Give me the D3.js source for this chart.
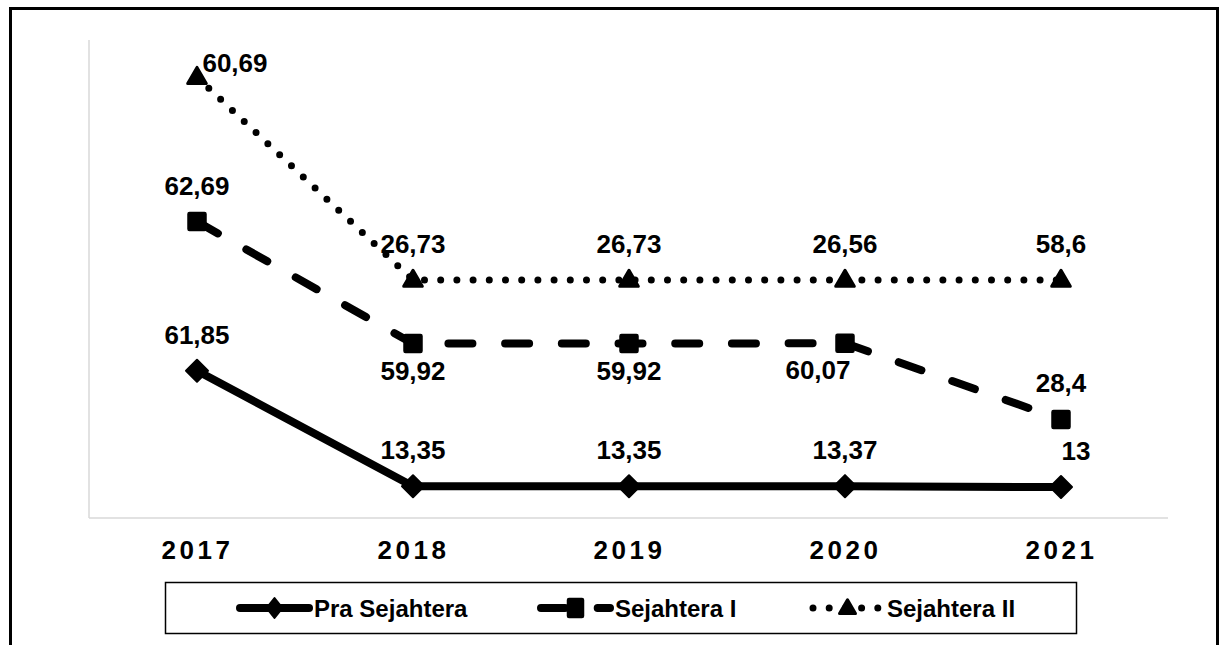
<!DOCTYPE html>
<html><head><meta charset="utf-8">
<script src="https://cdn.jsdelivr.net/npm/d3@7"></script>
<style>
body{margin:0;background:#fff}
svg{display:block}
text{font-family:"Liberation Sans",Arial,sans-serif;font-weight:bold;fill:#000}
</style>
</head><body>
<svg id="c" width="1220" height="645"></svg>
<script>
// ---- data ----
const years = ["2017", "2018", "2019", "2020", "2021"];
const praSejahtera = [61.85, 13.35, 13.35, 13.37, 13];
const sejahteraI = [62.69, 59.92, 59.92, 60.07, 28.4];
const sejahteraII = [60.69, 26.73, 26.73, 26.56, 58.6];
const seriesNames = ["Pra Sejahtera", "Sejahtera I", "Sejahtera II"];
const yDomain = [0, 200];

// ---- build table ----
const rows = years.map((yr, i) => ({
  year: yr,
  "Pra Sejahtera": praSejahtera[i],
  "Sejahtera I": sejahteraI[i],
  "Sejahtera II": sejahteraII[i]
}));
const stacked = d3.stack().keys(seriesNames)(rows);

const svg = d3.select("#c");

// outer frame
svg.append("rect").attr("x", 10.5).attr("y", 8.5).attr("width", 1207).attr("height", 720)
  .attr("fill", "none").attr("stroke", "#000").attr("stroke-width", 3);

const x = d3.scalePoint().domain(years).range([89, 1169]).padding(0.5);
const y = d3.scaleLinear().domain(yDomain).range([518, 42]);

// axes lines (light gray)
svg.append("line").attr("x1", 89).attr("x2", 89).attr("y1", 40).attr("y2", y(0))
  .attr("stroke", "#d9d9d9").attr("stroke-width", 1.5);
svg.append("line").attr("x1", 89).attr("x2", 1168).attr("y1", y(0)).attr("y2", y(0))
  .attr("stroke", "#d9d9d9").attr("stroke-width", 1.5);

// x tick labels
const xAxis = d3.axisBottom(x).tickSize(0).tickPadding(0);
const gx = svg.append("g").attr("transform", `translate(0,${y(0)})`).call(xAxis);
gx.select(".domain").remove();
gx.selectAll("text").attr("y", 41).attr("dy", 0).attr("dx", 0)
  .style("font-size", "26px").style("letter-spacing", "3.5px")
  .style("font-family", '"Liberation Sans",Arial,sans-serif').style("font-weight", "bold").attr("fill", "#000");

// styles per series
const styles = {
  "Pra Sejahtera": {dash: null, width: 8, marker: "diamond"},
  "Sejahtera I": {dash: "24,32.7", width: 8, marker: "square"},
  "Sejahtera II": {dash: "0,16.2", width: 7, marker: "triangle"}
};

function drawMarker(g, type, cx, cy, legend) {
  if (type === "diamond") {
    const sx = legend ? 8 : 11, sy = legend ? 10 : 11;
    g.append("path").attr("d", `M${cx},${cy - sy}L${cx + sx},${cy}L${cx},${cy + sy}L${cx - sx},${cy}Z`)
      .attr("fill", "#000").attr("stroke", "#000").attr("stroke-width", 2).attr("stroke-linejoin", "round");
  } else if (type === "square") {
    const sx = legend ? 8 : 9, sy = legend ? 9.5 : 9;
    g.append("rect").attr("x", cx - sx).attr("y", cy - sy).attr("width", 2 * sx).attr("height", 2 * sy)
      .attr("rx", 1.5).attr("fill", "#000").attr("stroke", "#000").attr("stroke-width", 1.5);
  } else {
    g.append("path").attr("d", d3.symbol(d3.symbolTriangle, legend ? 110 : 150)())
      .attr("transform", `translate(${cx},${cy + 1})`)
      .attr("fill", "#000").attr("stroke", "#000").attr("stroke-width", 3).attr("stroke-linejoin", "round");
  }
}

const line = d3.line().x(d => x(d.data.year)).y(d => y(d[1]));
const plot = svg.append("g");

stacked.forEach(s => {
  const st = styles[s.key];
  plot.append("path").datum(s).attr("d", line)
    .attr("fill", "none").attr("stroke", "#000").attr("stroke-width", st.width)
    .attr("stroke-linecap", "round").attr("stroke-linejoin", "round")
    .attr("stroke-dasharray", st.dash);
});
stacked.forEach(s => {
  const st = styles[s.key];
  s.forEach(d => drawMarker(plot, st.marker, x(d.data.year), y(d[1]), false));
});

// data labels
const fmt = v => String(v).replace(".", ",");
stacked.forEach(s => {
  s.forEach((d, i) => {
    const v = d.data[s.key];
    let dx = 0, dy = -27;
    if (s.key === "Sejahtera I" && i >= 1 && i <= 3) { dy = 36; if (i === 3) dx = -27; }
    if (s.key === "Sejahtera II" && i === 0) { dx = 38; dy = -5; }
    if (s.key === "Pra Sejahtera" && i === 4) { dx = 15; }
    svg.append("text").attr("x", x(d.data.year) + dx).attr("y", y(d[1]) + dy)
      .attr("text-anchor", "middle").style("font-size", "26px").text(fmt(v));
  });
});

// legend
const lg = svg.append("g");
lg.append("rect").attr("x", 165.5).attr("y", 582.5).attr("width", 911).attr("height", 51)
  .attr("fill", "#fff").attr("stroke", "#000").attr("stroke-width", 1.5);
const legendX = [237, 538, 810];
const ly = 608;
seriesNames.forEach((name, i) => {
  const st = styles[name];
  const x0 = legendX[i], x1 = x0 + 75;
  lg.append("line").attr("x1", x0 + 3).attr("x2", x1 - 3).attr("y1", ly).attr("y2", ly)
    .attr("stroke", "#000").attr("stroke-width", st.width)
    .attr("stroke-linecap", "round").attr("stroke-dasharray", st.dash);
  drawMarker(lg, st.marker, (x0 + x1) / 2, ly, true);
  lg.append("text").attr("x", x1 + 2).attr("y", 616.5).style("font-size", "24px").text(name);
});
</script>
</body></html>
